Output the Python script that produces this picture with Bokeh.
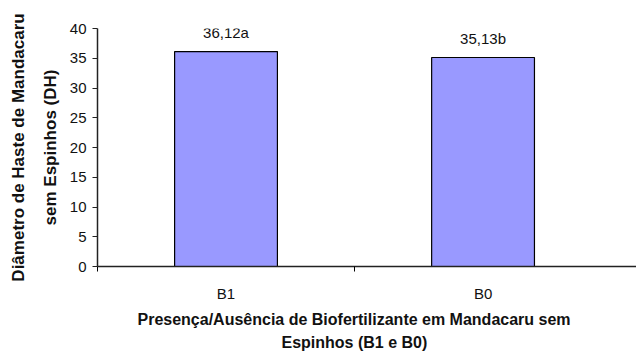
from bokeh.plotting import figure
from bokeh.models import Range1d, FixedTicker, Title, ColumnDataSource
from bokeh.embed import file_html
from bokeh.resources import INLINE
from bokeh.core.properties import value

# ---- data ----
categories = ["B1", "B0"]
values = [36.12, 35.13]
value_labels = ["36,12a", "35,13b"]
y_ticks = [0, 5, 10, 15, 20, 25, 30, 35, 40]
y_title = "Diâmetro de Haste de Mandacaru\nsem Espinhos (DH)"
x_title_lines = ["Presença/Ausência de Biofertilizante em Mandacaru sem",
                 "Espinhos (B1 e B0)"]

FONT = "Liberation Sans"

xs = [i + 0.5 for i in range(len(categories))]
src = ColumnDataSource(dict(x=xs, top=values, label=value_labels))

p = figure(width=636, height=356, output_backend="svg", toolbar_location=None,
           x_range=Range1d(0, len(categories) + 0.097),
           y_range=Range1d(y_ticks[0], y_ticks[-1]),
           min_border_left=97, min_border_right=0,
           min_border_top=28, min_border_bottom=90)
p.outline_line_color = None
p.grid.visible = False
p.background_fill_color = "white"
p.border_fill_color = "white"

p.vbar(x="x", top="top", width=0.4, fill_color="#9999FF", line_color="black",
       line_width=1.2, source=src)
p.text(x="x", y="top", text="label", text_align="center",
       text_baseline="alphabetic", y_offset=-19,
       text_font=value(FONT), text_font_size="15px", text_color="#111111",
       source=src)

# x axis
xa = p.xaxis[0]
xa.ticker = FixedTicker(ticks=xs, minor_ticks=list(range(len(categories))))
xa.major_label_overrides = {x: c for x, c in zip(xs, categories)}
xa.major_tick_out = 0
xa.major_tick_in = 0
xa.minor_tick_out = 5
xa.minor_tick_in = 0
xa.minor_tick_line_color = "black"
xa.axis_line_color = "#222222"
xa.axis_line_width = 1.5
xa.major_label_standoff = 13
xa.major_label_text_font = FONT
xa.major_label_text_font_size = "15px"
xa.major_label_text_color = "#111111"

# y axis
ya = p.yaxis[0]
ya.ticker = FixedTicker(ticks=y_ticks)
ya.minor_tick_line_color = None
ya.major_tick_out = 5
ya.major_tick_in = 0
ya.major_tick_line_color = "#222222"
ya.axis_line_color = "#222222"
ya.axis_line_width = 1.5
ya.major_label_standoff = 6
ya.major_label_text_font = FONT
ya.major_label_text_font_size = "15px"
ya.major_label_text_color = "#111111"
ya.axis_label = y_title
ya.axis_label_text_font = FONT
ya.axis_label_text_font_style = "bold"
ya.axis_label_text_font_size = "17px"
ya.axis_label_text_color = "#111111"
ya.axis_label_text_line_height = 1.65
ya.axis_label_standoff = 7

# x title as two lines below the axis, centred under the two categories
title_offsets = [40, 184]
for i, line in enumerate(x_title_lines):
    p.add_layout(Title(text=line, align="left", offset=title_offsets[i],
                       text_font=FONT, text_font_style="bold",
                       text_font_size="16px", text_color="#111111",
                       standoff=8 if i == 0 else 0), "below")

open("out.html", "w").write(file_html(p, INLINE))
